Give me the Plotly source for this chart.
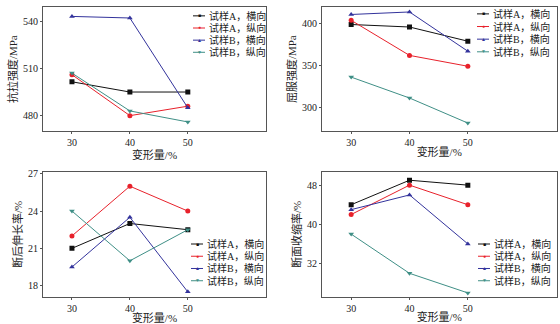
import plotly.graph_objects as go

x_vals = [30, 40, 50]
series_names = ["试样A，横向", "试样A，纵向", "试样B，横向", "试样B，纵向"]

tensile = {
    "试样A，横向": [501.5, 495, 495],
    "试样A，纵向": [506, 480, 486],
    "试样B，横向": [543, 542, 485],
    "试样B，纵向": [507, 483, 476],
}
yield_strength = {
    "试样A，横向": [399, 396, 379],
    "试样A，纵向": [404, 362, 349],
    "试样B，横向": [411, 414, 367],
    "试样B，纵向": [336, 311, 281],
}
elongation = {
    "试样A，横向": [21, 23, 22.5],
    "试样A，纵向": [22, 26, 24],
    "试样B，横向": [19.5, 23.5, 17.5],
    "试样B，纵向": [24, 20, 22.5],
}
reduction = {
    "试样A，横向": [44, 49, 48],
    "试样A，纵向": [42, 48, 44],
    "试样B，横向": [43, 46, 36],
    "试样B，纵向": [38, 30, 26],
}

colors = {"试样A，横向": "#111111", "试样A，纵向": "#e8212b",
          "试样B，横向": "#33339c", "试样B，纵向": "#3f8f86"}
symbols = {"试样A，横向": "square", "试样A，纵向": "circle",
           "试样B，横向": "triangle-up", "试样B，纵向": "triangle-down"}

FONT = "Liberation Serif, Times New Roman, Noto Sans CJK SC, serif"

panels = [
    (tensile, "抗拉强度/MPa", [470, 549], [480, 510, 540]),
    (yield_strength, "屈服强度/MPa", [271, 420], [300, 350, 400]),
    (elongation, "断后伸长率/%", [17.1, 27.15], [18, 21, 24, 27]),
    (reduction, "断面收缩率/%", [25.2, 50.7], [32, 40, 48]),
]

xdoms = [[43/560, 266/560], [322/560, 556.5/560]]
ydoms = [[1-129/324, 1-3/324], [1-296.5/324, 1-170/324]]

fig = go.Figure()
layout = {}
for i, (data, ytitle, yr, ytv) in enumerate(panels):
    r, c = divmod(i, 2)
    ax = "" if i == 0 else str(i+1)
    for name in series_names:
        fig.add_trace(go.Scatter(
            x=x_vals, y=data[name], mode="lines+markers", name=name,
            xaxis="x"+ax, yaxis="y"+ax,
            line=dict(color=colors[name], width=1),
            marker=dict(symbol=symbols[name], size=5, color=colors[name]),
            showlegend=False, legendgroup=name, hoverinfo="skip"))
    common = dict(showline=True, linecolor="#555555", linewidth=1, mirror=True,
                  ticks="outside", ticklen=2, tickcolor="#555555", showgrid=False,
                  zeroline=False, tickfont=dict(family=FONT, size=10, color="#222"))
    layout["xaxis"+ax] = dict(domain=xdoms[c], range=[25, 63.5] if c == 0 else [25, 65.2],
                              anchor="y"+ax, tickvals=x_vals,
                              title=dict(text="变形量/%", font=dict(family=FONT, size=11, color="#222"), standoff=0),
                              **common)
    layout["yaxis"+ax] = dict(domain=ydoms[r], range=yr, anchor="x"+ax, tickvals=ytv,
                              title=dict(text=ytitle, font=dict(family=FONT, size=11, color="#222"), standoff=3),
                              **common)

leg_pos = [
    (193, 12, 12.3),
    (477, 10, 12.8),
    (191, 243, 12.4),
    (478, 243, 12.4),
]
glyph = {"square": "■", "circle": "●", "triangle-up": "▲", "triangle-down": "▼"}
for i, (lx, ly, dy) in enumerate(leg_pos):
    for j, name in enumerate(series_names):
        yy = ly + j*dy
        fig.add_shape(type="line", xref="paper", yref="paper",
                      x0=lx/560, x1=(lx+12)/560, y0=1-yy/324, y1=1-yy/324,
                      line=dict(color=colors[name], width=1))
        fig.add_annotation(xref="paper", yref="paper", x=(lx+6)/560, y=1-yy/324,
                           text=glyph[symbols[name]],
                           showarrow=False, font=dict(size=5, color=colors[name]),
                           xanchor="center", yanchor="middle")
        fig.add_annotation(xref="paper", yref="paper", x=(lx+14)/560, y=1-yy/324,
                           text=name, showarrow=False, xanchor="left", yanchor="middle",
                           font=dict(family=FONT, size=10, color="#222"))

fig.update_layout(width=560, height=324, margin=dict(l=0, r=0, t=0, b=0),
                  paper_bgcolor="white", plot_bgcolor="white", showlegend=False,
                  font=dict(family=FONT), **layout)
fig.write_html("out.html")
